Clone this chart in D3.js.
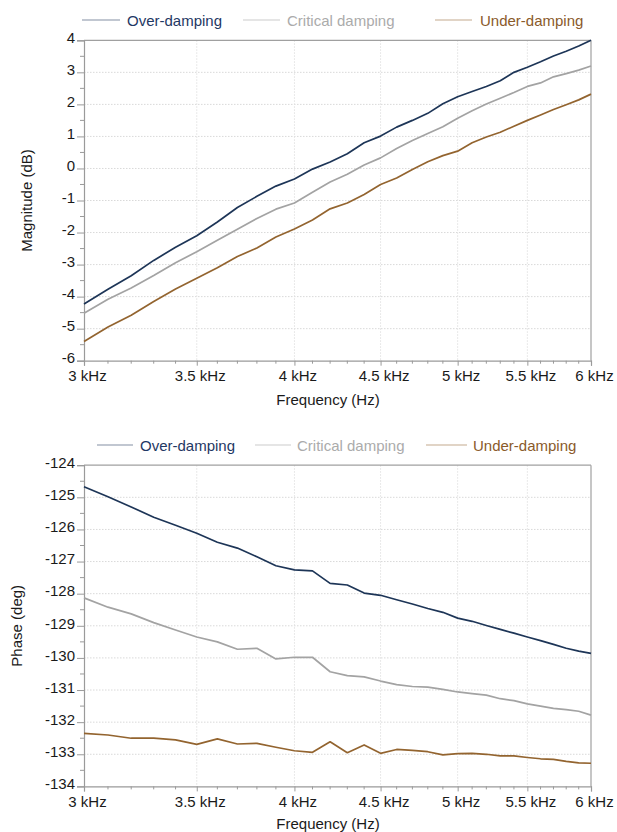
<!DOCTYPE html>
<html><head><meta charset="utf-8">
<script src="https://cdn.jsdelivr.net/npm/d3@7"></script>
<style>
html,body{margin:0;padding:0;background:#fff;}
svg text{font-family:"Liberation Sans",Arial,sans-serif;}
</style></head>
<body>
<svg id="chart" width="617" height="832"></svg>
<script>
const freqHz = [3000,3100,3200,3300,3400,3500,3600,3700,3800,3900,4000,4100,4200,4300,4400,4500,4600,4700,4800,4900,5000,5100,5200,5300,5400,5500,5600,5700,5800,5900,6000];

const magOver = [-4.23,-3.77,-3.35,-2.87,-2.46,-2.10,-1.67,-1.22,-0.87,-0.55,-0.33,-0.02,0.20,0.46,0.80,1.01,1.29,1.50,1.72,2.02,2.24,2.40,2.56,2.74,3.00,3.16,3.33,3.51,3.66,3.82,4.00];
const magCritical = [-4.52,-4.08,-3.73,-3.34,-2.94,-2.60,-2.24,-1.90,-1.56,-1.27,-1.08,-0.74,-0.42,-0.18,0.11,0.33,0.62,0.87,1.09,1.30,1.57,1.80,2.01,2.19,2.37,2.56,2.67,2.86,2.96,3.07,3.20];
const magUnder = [-5.40,-4.95,-4.58,-4.15,-3.76,-3.43,-3.10,-2.75,-2.48,-2.14,-1.89,-1.61,-1.26,-1.08,-0.81,-0.50,-0.30,-0.03,0.21,0.40,0.54,0.80,0.98,1.13,1.32,1.50,1.67,1.84,1.99,2.14,2.32];

const phaseOver = [-124.67,-124.98,-125.30,-125.62,-125.87,-126.12,-126.40,-126.58,-126.85,-127.13,-127.26,-127.29,-127.68,-127.73,-127.98,-128.05,-128.19,-128.32,-128.46,-128.58,-128.76,-128.86,-128.99,-129.11,-129.23,-129.35,-129.46,-129.58,-129.70,-129.79,-129.86];
const phaseCritical = [-128.13,-128.42,-128.63,-128.90,-129.13,-129.35,-129.50,-129.73,-129.70,-130.03,-129.98,-129.98,-130.43,-130.55,-130.59,-130.72,-130.83,-130.89,-130.91,-130.98,-131.06,-131.11,-131.16,-131.27,-131.33,-131.43,-131.50,-131.57,-131.61,-131.66,-131.78];
const phaseUnder = [-132.35,-132.40,-132.50,-132.50,-132.55,-132.69,-132.52,-132.68,-132.66,-132.78,-132.89,-132.94,-132.61,-132.95,-132.71,-132.97,-132.85,-132.88,-132.92,-133.02,-132.98,-132.97,-133.00,-133.05,-133.05,-133.10,-133.14,-133.16,-133.22,-133.27,-133.28];

const xTicks = [3000,3500,4000,4500,5000,5500,6000];
const xTickLabels = ["3 kHz","3.5 kHz","4 kHz","4.5 kHz","5 kHz","5.5 kHz","6 kHz"];
const magTicks = [4,3,2,1,0,-1,-2,-3,-4,-5,-6];
const phaseTicks = [-124,-125,-126,-127,-128,-129,-130,-131,-132,-133,-134];
const seriesNames = ["Over-damping","Critical damping","Under-damping"];
const seriesColors = ["#1d3557","#a3a3a3","#93642f"];
const legendTextColors = ["#1f3864","#ababab","#8a5a2b"];

const svg = d3.select("#chart");
const x = d3.scaleLog().domain([3000,6000]).range([84,591]);

function drawPanel(cfg){
  const y = d3.scaleLinear().domain(cfg.domain).range([cfg.bottom, cfg.top]);
  const g = svg.append("g");
  g.append("g").selectAll("line").data(cfg.ticks.slice(1,-1)).join("line")
    .attr("x1",x.range()[0]).attr("x2",x.range()[1])
    .attr("y1",d=>y(d)).attr("y2",d=>y(d))
    .attr("stroke","#d9d9d9").attr("stroke-dasharray","1.5,1.5").attr("stroke-width",1);
  g.append("g").selectAll("line").data(xTicks.slice(1,-1)).join("line")
    .attr("x1",d=>x(d)).attr("x2",d=>x(d))
    .attr("y1",cfg.top).attr("y2",cfg.bottom)
    .attr("stroke","#e2e2e2").attr("stroke-dasharray","1.5,1.5").attr("stroke-width",1);
  g.append("line").attr("x1",x.range()[0]).attr("x2",x.range()[1]).attr("y1",cfg.top).attr("y2",cfg.top)
    .attr("stroke","#a0a0a0").attr("stroke-width",1.2);
  g.append("line").attr("x1",x.range()[1]).attr("x2",x.range()[1]).attr("y1",cfg.top).attr("y2",cfg.bottom)
    .attr("stroke","#a0a0a0").attr("stroke-width",1.2);

  const yAxis = d3.axisLeft(y).tickValues(cfg.ticks).tickFormat(d=>d).tickSize(7).tickPadding(2);
  const ya = g.append("g").attr("transform",`translate(${x.range()[0]},0)`).call(yAxis);
  ya.selectAll(".tick text").attr("dy","0.15em");
  const minorY = d3.range(cfg.domain[0]+0.5, cfg.domain[1], 1);
  g.append("g").selectAll("line").data(minorY).join("line")
    .attr("x1",x.range()[0]-4).attr("x2",x.range()[0]).attr("y1",d=>y(d)).attr("y2",d=>y(d))
    .attr("stroke","#9a9a9a");
  const xAxis = d3.axisBottom(x).tickValues(xTicks).tickFormat((d,i)=>xTickLabels[i]).tickSize(5).tickPadding(4.5);
  const xa = g.append("g").attr("transform",`translate(0,${cfg.bottom})`).call(xAxis);
  xa.selectAll(".tick text").attr("dx","3");
  g.append("g").selectAll("line").data(freqHz.filter(f=>xTicks.indexOf(f)<0)).join("line")
    .attr("x1",d=>x(d)).attr("x2",d=>x(d)).attr("y1",cfg.bottom).attr("y2",cfg.bottom+3)
    .attr("stroke","#9a9a9a");
  [ya,xa].forEach(a=>{
    a.select(".domain").attr("stroke","#9a9a9a").attr("stroke-width",1.2);
    a.selectAll(".tick line").attr("stroke","#9a9a9a");
    a.selectAll(".tick text").attr("font-size","15px").attr("fill","#1a1a1a")
      .attr("font-family","'Liberation Sans',Arial,sans-serif");
  });

  const line = d3.line().x((d,i)=>x(freqHz[i])).y(d=>y(d));
  cfg.series.forEach((s,k)=>{
    g.append("path").datum(s).attr("d",line).attr("fill","none")
      .attr("stroke",seriesColors[k]).attr("stroke-width",1.7).attr("stroke-linejoin","round");
  });

  g.append("text").attr("transform",`translate(${cfg.yTitleX},${(cfg.top+cfg.bottom)/2}) rotate(-90)`)
    .attr("text-anchor","middle").attr("font-size","15px").attr("fill","#1a1a1a").text(cfg.yTitle);
  g.append("text").attr("x",328).attr("y",cfg.xTitleY).attr("text-anchor","middle")
    .attr("font-size","15px").attr("fill","#1a1a1a").text("Frequency (Hz)");

  cfg.legend.forEach((L,k)=>{
    g.append("line").attr("x1",L[0]).attr("x2",L[1]).attr("y1",cfg.legendY).attr("y2",cfg.legendY)
      .attr("stroke",seriesColors[k]).attr("stroke-opacity",0.55).attr("stroke-width",1.2);
    g.append("text").attr("x",L[2]).attr("y",cfg.legendY+5.5).attr("font-size","15px")
      .attr("fill",legendTextColors[k]).text(seriesNames[k]);
  });
}

drawPanel({domain:[-6,4], ticks:magTicks, top:40.3, bottom:360.7, series:[magOver,magCritical,magUnder],
  yTitle:"Magnitude (dB)", yTitleX:32, xTitleY:404.5, legendY:20,
  legend:[[82,120,127],[243,280,287],[435,472,480]]});
drawPanel({domain:[-134,-124], ticks:phaseTicks, top:465.2, bottom:786.4, series:[phaseOver,phaseCritical,phaseUnder],
  yTitle:"Phase (deg)", yTitleX:21.5, xTitleY:829, legendY:445,
  legend:[[97,133,140],[255,291,297],[426,467,473]]});
</script>
</body></html>
